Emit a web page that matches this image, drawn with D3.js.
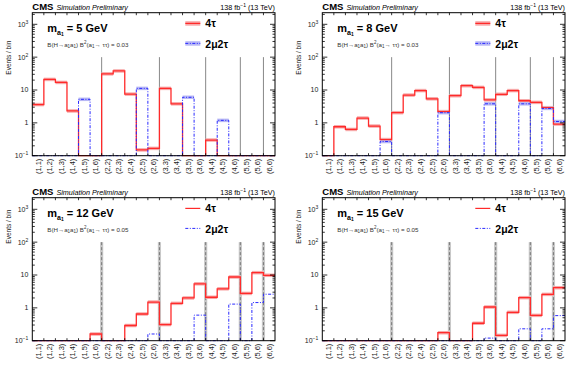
<!DOCTYPE html>
<html><head><meta charset="utf-8">
<script src="https://cdn.jsdelivr.net/npm/d3@7"></script>
<style>body{margin:0;background:#fff}svg{font-family:"Liberation Sans",Arial,sans-serif}</style>
</head><body><svg id="c" width="580" height="369"></svg>
<script>
// ---------------- data ----------------
const bins = ["(1,1)","(1,2)","(1,3)","(1,4)","(1,5)","(1,6)","(2,2)","(2,3)","(2,4)","(2,5)","(2,6)","(3,3)","(3,4)","(3,5)","(3,6)","(4,4)","(4,5)","(4,6)","(5,5)","(5,6)","(6,6)"];
const dividerBins = ["(2,2)","(3,3)","(4,4)","(5,5)","(6,6)"];
const yTicks = [0.1, 1, 10, 100, 1000];
const yTickBase = ["10", "1", "10", "10", "10"];
const yTickExp  = ["−1", "", "", "2", "3"];
const massLabels = ["5", "8", "12", "15"];
const brLabels = ["0.03", "0.03", "0.05", "0.05"];
const lumiText = "138 fb";

const fourTau_m5  = [3.6, 21, 17, 2.3, 0, 0, 31, 38, 7.5, 0.15, 0.167, 11.2, 3.8, 0, 0, 0.3, 0, 0, 0, 0, 0];
const twoMu_m5    = [0, 0, 0, 0, 5.2, 0, 0, 0, 0, 11.2, 0, 0, 0, 6.0, 0, 0, 1.19, 0, 0, 0, 0];
const fourTau_m8  = [0, 0.76, 0.63, 1.4, 0.8, 0.31, 2.04, 7.0, 9.6, 5.4, 2.2, 6.7, 13.5, 12, 5.0, 7.4, 9.6, 4.7, 4.2, 2.9, 0.92];
const twoMu_m8    = [0, 0, 0, 0, 0, 0.27, 0, 0, 0, 0, 2.04, 0, 0, 0, 3.8, 0, 0, 3.8, 0, 2.75, 1.1];
const fourTau_m12 = [0, 0, 0, 0, 0, 0.16, 0, 0, 0.29, 0.65, 1.5, 0.31, 1.37, 2.0, 5.4, 2.1, 3.8, 8.7, 2.75, 11.8, 9.8];
const twoMu_m12   = [0, 0, 0, 0, 0, 0, 0, 0, 0, 0, 0.16, 0, 0, 0, 0.6, 0, 0, 1.3, 0, 1.45, 2.6];
const fourTau_m15 = [0, 0, 0, 0, 0, 0, 0, 0, 0, 0, 0.175, 0, 0, 0.34, 1.06, 0.145, 0.73, 2.04, 0.59, 2.57, 4.1];
const twoMu_m15   = [0, 0, 0, 0, 0, 0, 0, 0, 0, 0, 0, 0, 0, 0, 0.12, 0, 0, 0.23, 0, 0.23, 0.58];

// ---------------- layout ----------------
const panels = [
  {ox: 0,   oy: 0,   red: fourTau_m5,  blue: twoMu_m5,  top: true},
  {ox: 290, oy: 0,   red: fourTau_m8,  blue: twoMu_m8,  top: true},
  {ox: 0,   oy: 185, red: fourTau_m12, blue: twoMu_m12, top: false},
  {ox: 290, oy: 185, red: fourTau_m15, blue: twoMu_m15, top: false}
];
const fx0 = 32.3, fx1 = 275, fy0 = 12.7, fy1 = 155.7;
const W = fx1 - fx0, H = fy1 - fy0;
const RED = "#ff2a2a", PINK = "#f7a8a8", BLUE = "#2a2aff", LBLUE = "#b8b8f5";

const svg = d3.select("#c");

panels.forEach((p, pi) => {
  const g = svg.append("g").attr("transform", `translate(${p.ox + fx0},${p.oy + fy0})`);
  const x = d3.scaleBand().domain(bins).range([0, W]);
  const y = d3.scaleLog().domain([0.1, 2255]).range([H, 0]);
  const bw = x.bandwidth();
  const yv = v => y(Math.max(v, 0.1));

  // dividers
  dividerBins.forEach(b => {
    const xx = x(b);
    if (p.top) {
      g.append("line").attr("x1", xx).attr("x2", xx).attr("y1", y(100)).attr("y2", H)
        .attr("stroke", "#555").attr("stroke-width", 0.7);
    } else {
      g.append("rect").attr("x", xx - 1.6).attr("width", 3.2).attr("y", y(100)).attr("height", H - y(100))
        .attr("fill", "#c8c8c8");
      g.append("line").attr("x1", xx).attr("x2", xx).attr("y1", y(100)).attr("y2", H)
        .attr("stroke", "#666").attr("stroke-width", 0.8).attr("stroke-dasharray", "3,2");
    }
  });

  // uncertainty bands
  const band = (vals, col) => {
    vals.forEach((v, i) => {
      if (v <= 0) return;
      const yt = y(v * 1.13), yb = Math.min(H, y(v / 1.13));
      g.append("rect").attr("x", x(bins[i])).attr("width", bw).attr("y", yt).attr("height", yb - yt)
        .attr("fill", col);
    });
  };
  band(p.red, PINK);
  if (p.top) band(p.blue, LBLUE);

  // step lines
  const stepPts = vals => {
    const pts = vals.map((v, i) => [x(bins[i]), yv(v)]);
    pts.push([W, yv(vals[vals.length - 1])]);
    return pts;
  };
  const line = d3.line().curve(d3.curveStepAfter);
  g.append("path").attr("d", line(stepPts(p.red))).attr("fill", "none")
    .attr("stroke", RED).attr("stroke-width", 1.3);
  g.append("path").attr("d", line(stepPts(p.blue))).attr("fill", "none")
    .attr("stroke", BLUE).attr("stroke-width", 1).attr("stroke-dasharray", "3,1.5,1,1.5");

  // frame
  g.append("rect").attr("x", 0).attr("y", 0).attr("width", W).attr("height", H)
    .attr("fill", "none").attr("stroke", "#000").attr("stroke-width", 1);

  // y ticks (major + minor) on both sides
  for (let d = -1; d <= 3; d++) {
    for (let m = 1; m <= 9; m++) {
      const v = m * Math.pow(10, d);
      if (v > 2255) break;
      const yy = y(v), len = m === 1 ? 5 : 2.5;
      g.append("line").attr("x1", 0).attr("x2", len).attr("y1", yy).attr("y2", yy).attr("stroke", "#000").attr("stroke-width", 0.8);
      g.append("line").attr("x1", W).attr("x2", W - len).attr("y1", yy).attr("y2", yy).attr("stroke", "#000").attr("stroke-width", 0.8);
    }
  }
  // y tick labels
  yTicks.forEach((t, i) => {
    const tx = g.append("text").attr("x", -4).attr("y", y(t) + 2.5).attr("text-anchor", "end")
      .attr("font-size", 7).attr("fill", "#222");
    tx.append("tspan").text(yTickBase[i]);
    if (yTickExp[i]) tx.append("tspan").attr("dy", -3).attr("font-size", 5).text(yTickExp[i]);
  });
  // x ticks at bin edges (bottom & top)
  bins.forEach((b, i) => {
    if (i === 0) return;
    const xx = x(b);
    g.append("line").attr("x1", xx).attr("x2", xx).attr("y1", H).attr("y2", H - 2.5).attr("stroke", "#000").attr("stroke-width", 0.8);
    g.append("line").attr("x1", xx).attr("x2", xx).attr("y1", 0).attr("y2", 2.5).attr("stroke", "#000").attr("stroke-width", 0.8);
  });
  // x labels (vertical)
  bins.forEach(b => {
    const cx = x(b) + bw / 2;
    g.append("text").attr("transform", `translate(${cx + 2.5},${H + 3}) rotate(-90)`)
      .attr("text-anchor", "end").attr("font-size", 7.5).attr("fill", "#222").text(b);
  });

  // y axis title
  g.append("text").attr("transform", `translate(${-21},${p.top ? 28 : 12}) rotate(-90)`)
    .attr("text-anchor", "end").attr("font-size", 6.5).attr("fill", "#222").text("Events / bin");

  // header
  const hdr = g.append("text").attr("x", 0).attr("y", -3).attr("font-size", 9.5);
  hdr.append("tspan").attr("font-weight", "bold").text("CMS");
  hdr.append("tspan").attr("font-style", "italic").attr("font-size", 7.2).attr("dx", 3).text("Simulation Preliminary");
  const lumi = g.append("text").attr("x", W).attr("y", -3).attr("text-anchor", "end").attr("font-size", 7.2);
  lumi.append("tspan").text(lumiText);
  lumi.append("tspan").attr("dy", -3).attr("font-size", 5).text("−1");
  lumi.append("tspan").attr("dy", 3).text(" (13 TeV)");

  // mass label
  const ml = g.append("text").attr("x", 15).attr("y", 19).attr("font-size", 11).attr("font-weight", "bold");
  ml.append("tspan").text("m");
  ml.append("tspan").attr("dy", 3).attr("font-size", 7).text("a");
  ml.append("tspan").attr("dy", 1.5).attr("font-size", 5).text("1");
  ml.append("tspan").attr("dy", -4.5).text(` = ${massLabels[pi]} GeV`);

  // branching ratio text
  const br = g.append("text").attr("x", 15).attr("y", 34).attr("font-size", 6.2).attr("fill", "#333");
  br.append("tspan").text("B(H→a");
  br.append("tspan").attr("dy", 1.5).attr("font-size", 4.5).text("1");
  br.append("tspan").attr("dy", -1.5).text("a");
  br.append("tspan").attr("dy", 1.5).attr("font-size", 4.5).text("1");
  br.append("tspan").attr("dy", -1.5).text(") B");
  br.append("tspan").attr("dy", -2.5).attr("font-size", 4.5).text("2");
  br.append("tspan").attr("dy", 2.5).text("(a");
  br.append("tspan").attr("dy", 1.5).attr("font-size", 4.5).text("1");
  br.append("tspan").attr("dy", -1.5).text("→ ττ) = " + brLabels[pi]);

  // legend
  const lx0 = 153, lx1 = 168;
  if (p.top) {
    g.append("rect").attr("x", lx0).attr("width", lx1 - lx0).attr("y", 8.5).attr("height", 4.5).attr("fill", PINK);
    g.append("rect").attr("x", lx0).attr("width", lx1 - lx0).attr("y", 28.5).attr("height", 4.5).attr("fill", LBLUE);
  }
  g.append("line").attr("x1", lx0).attr("x2", lx1).attr("y1", 10.7).attr("y2", 10.7).attr("stroke", RED).attr("stroke-width", 1.2);
  g.append("line").attr("x1", lx0).attr("x2", lx1).attr("y1", 30.7).attr("y2", 30.7).attr("stroke", BLUE).attr("stroke-width", 1).attr("stroke-dasharray", "3,1.5,1,1.5");
  g.append("text").attr("x", 173).attr("y", 14.8).attr("font-size", 10.5).attr("font-weight", "bold").text("4τ");
  g.append("text").attr("x", 173).attr("y", 35.3).attr("font-size", 10.5).attr("font-weight", "bold").text("2μ2τ");
});
</script></body></html>
